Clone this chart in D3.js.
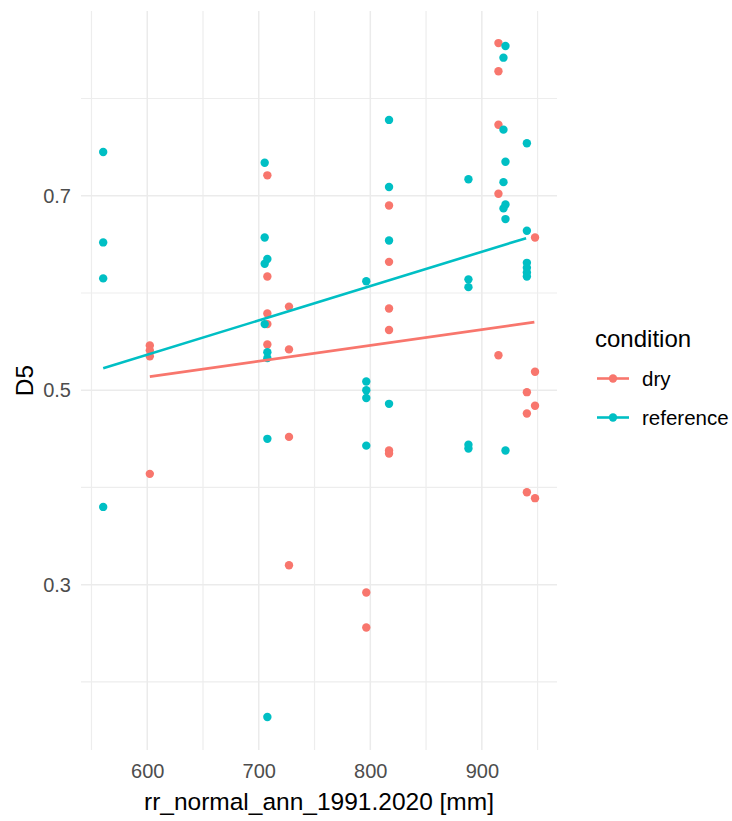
<!DOCTYPE html>
<html>
<head>
    <title>D5 vs rr_normal_ann_1991.2020</title>
    <script src="https://d3js.org/d3.v7.min.js"></script>
    <style>
        body { margin: 0; background: #fff; }
        text { font-family: "Liberation Sans", Arial, sans-serif; }
    </style>
</head>
<body>
    <div id="chart"></div>

    <script>
        // values: [rr_normal, D5]
        const dryPoints = [
            [602.3, 0.546], [602.3, 0.541], [602.3, 0.535], [602.3, 0.414],
            [707.7, 0.721], [707.7, 0.617], [707.7, 0.579], [707.7, 0.568], [707.7, 0.547],
            [727.1, 0.586], [727.1, 0.542], [727.1, 0.452], [727.1, 0.320],
            [796.4, 0.292], [796.4, 0.256],
            [816.8, 0.690], [816.8, 0.632], [816.8, 0.584], [816.8, 0.562], [816.8, 0.438], [816.8, 0.435],
            [914.9, 0.857], [914.9, 0.828], [914.9, 0.773], [914.9, 0.702], [914.9, 0.536],
            [940.4, 0.498], [940.4, 0.476], [940.4, 0.395],
            [947.7, 0.657], [947.7, 0.519], [947.7, 0.484], [947.7, 0.389]
        ];
        const referencePoints = [
            [560.5, 0.745], [560.5, 0.652], [560.5, 0.615], [560.5, 0.380],
            [705.3, 0.734], [705.3, 0.657], [705.3, 0.630], [705.3, 0.568],
            [707.7, 0.635], [707.7, 0.539], [707.7, 0.533], [707.7, 0.450], [707.7, 0.164],
            [796.4, 0.612], [796.4, 0.509], [796.4, 0.500], [796.4, 0.492], [796.4, 0.443],
            [816.8, 0.778], [816.8, 0.709], [816.8, 0.654], [816.8, 0.486],
            [888.0, 0.717], [888.0, 0.614], [888.0, 0.606], [888.0, 0.444], [888.0, 0.440],
            [919.4, 0.842], [919.4, 0.768], [919.4, 0.714], [919.4, 0.687],
            [921.2, 0.854], [921.2, 0.735], [921.2, 0.691], [921.2, 0.676], [921.2, 0.438],
            [940.4, 0.754], [940.4, 0.664], [940.4, 0.631], [940.4, 0.626], [940.4, 0.621], [940.4, 0.617]
        ];
        // fitted lm lines (end points)
        const dryFit = [[602.3, 0.514], [947.1, 0.570]];
        const referenceFit = [[560.5, 0.5226], [939.7, 0.6564]];

        const xTicks = [600, 700, 800, 900];
        const xMinor = [550, 650, 750, 850, 950];
        const yTicks = [0.3, 0.5, 0.7];
        const yMinor = [0.2, 0.4, 0.6, 0.8];

        const conditions = ["dry", "reference"];
        const colors = ["#F8766D", "#00BFC4"];

        const margin = { top: 11, right: 175, bottom: 71, left: 81 };
        const width = 732 - margin.left - margin.right;
        const height = 821 - margin.top - margin.bottom;

        const svg = d3.select("#chart").append("svg")
            .attr("width", 732)
            .attr("height", 821)
            .append("g")
            .attr("transform", "translate(" + margin.left + "," + margin.top + ")");

        const xScale = d3.scaleLinear()
            .domain([540.6, 967.4])
            .range([0, width]);

        const yScale = d3.scaleLinear()
            .domain([0.13, 0.89])
            .range([height, 0]);

        const color = d3.scaleOrdinal().domain(conditions).range(colors);

        // grid
        const grid = svg.append("g");
        grid.selectAll(".vminor").data(xMinor).enter().append("line")
            .attr("x1", d => xScale(d)).attr("x2", d => xScale(d))
            .attr("y1", 0).attr("y2", height)
            .attr("stroke", "#EDEDED").attr("stroke-width", 1.2);
        grid.selectAll(".hminor").data(yMinor).enter().append("line")
            .attr("x1", 0).attr("x2", width)
            .attr("y1", d => yScale(d)).attr("y2", d => yScale(d))
            .attr("stroke", "#EDEDED").attr("stroke-width", 1.2);
        grid.selectAll(".vmajor").data(xTicks).enter().append("line")
            .attr("x1", d => xScale(d)).attr("x2", d => xScale(d))
            .attr("y1", 0).attr("y2", height)
            .attr("stroke", "#EBEBEB").attr("stroke-width", 1.5);
        grid.selectAll(".hmajor").data(yTicks).enter().append("line")
            .attr("x1", 0).attr("x2", width)
            .attr("y1", d => yScale(d)).attr("y2", d => yScale(d))
            .attr("stroke", "#EBEBEB").attr("stroke-width", 1.5);

        // axes (labels only, like theme_minimal)
        const xAxis = svg.append("g")
            .attr("transform", "translate(0," + height + ")")
            .call(d3.axisBottom(xScale).tickValues(xTicks).tickSize(0).tickPadding(14));
        const yAxis = svg.append("g")
            .call(d3.axisLeft(yScale).tickValues(yTicks).tickFormat(d3.format(".1f")).tickSize(0).tickPadding(10));
        [xAxis, yAxis].forEach(a => {
            a.select(".domain").remove();
            a.selectAll("text")
                .attr("fill", "#4D4D4D")
                .style("font-size", "20px")
                .style("font-family", "'Liberation Sans', Arial, sans-serif");
        });

        // points
        const series = [dryPoints, referencePoints];
        series.forEach((pts, i) => {
            svg.append("g").selectAll("circle")
                .data(pts)
                .enter()
                .append("circle")
                .attr("cx", d => xScale(d[0]))
                .attr("cy", d => yScale(d[1]))
                .attr("r", 4.2)
                .attr("fill", color(conditions[i]));
        });

        // fit lines
        const line = d3.line().x(d => xScale(d[0])).y(d => yScale(d[1]));
        [dryFit, referenceFit].forEach((f, i) => {
            svg.append("path")
                .datum(f)
                .attr("d", line)
                .attr("fill", "none")
                .attr("stroke", color(conditions[i]))
                .attr("stroke-width", 2.6);
        });

        // axis titles
        svg.append("text")
            .attr("x", width / 2)
            .attr("y", height + 60)
            .attr("text-anchor", "middle")
            .attr("fill", "#000")
            .style("font-size", "24.5px")
            .text("rr_normal_ann_1991.2020 [mm]");

        svg.append("text")
            .attr("transform", "rotate(-90)")
            .attr("x", -height / 2)
            .attr("y", -48)
            .attr("text-anchor", "middle")
            .attr("fill", "#000")
            .style("font-size", "24.5px")
            .text("D5");

        // legend
        const legend = svg.append("g")
            .attr("transform", "translate(" + (width + 38) + ",0)");
        legend.append("text")
            .attr("x", 0)
            .attr("y", 336)
            .style("font-size", "24px")
            .attr("fill", "#000")
            .text("condition");
        conditions.forEach((c, i) => {
            const ky = 367.5 + i * 39;
            legend.append("line")
                .attr("x1", 2).attr("x2", 34)
                .attr("y1", ky).attr("y2", ky)
                .attr("stroke", color(c)).attr("stroke-width", 2.6);
            legend.append("circle")
                .attr("cx", 18).attr("cy", ky)
                .attr("r", 4.2)
                .attr("fill", color(c));
            legend.append("text")
                .attr("x", 47)
                .attr("y", ky + 7)
                .style("font-size", "20.5px")
                .attr("fill", "#000")
                .text(c);
        });
    </script>
</body>
</html>
